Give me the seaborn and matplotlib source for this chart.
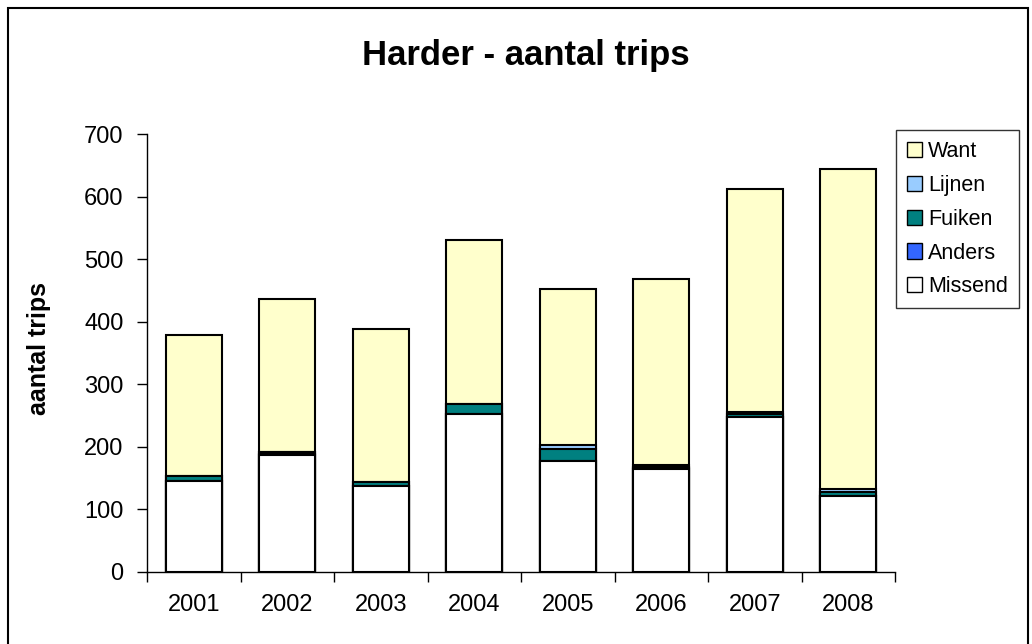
import matplotlib
matplotlib.use("Agg")
import matplotlib.pyplot as plt
import matplotlib.patches as mpatches
import numpy as np
import pandas as pd
import seaborn as sns

years = ["2001", "2002", "2003", "2004", "2005", "2006", "2007", "2008"]
missend = [145, 187, 137, 252, 177, 165, 248, 122]
anders = [0, 1, 0, 0, 0, 1, 0, 0]
fuiken = [8, 4, 7, 16, 19, 2, 5, 6]
lijnen = [0, 0, 0, 0, 7, 3, 2, 4]
want = [225, 245, 245, 263, 249, 297, 357, 512]

series_names = ["Missend", "Anders", "Fuiken", "Lijnen", "Want"]
series_colors = {
    "Missend": "#FFFFFF",
    "Anders": "#3366FF",
    "Fuiken": "#008080",
    "Lijnen": "#99CCFF",
    "Want": "#FFFFCC",
}

df = pd.DataFrame({
    "jaar": years,
    "Missend": missend,
    "Anders": anders,
    "Fuiken": fuiken,
    "Lijnen": lijnen,
    "Want": want,
})

# cumulative heights so each layer can be drawn as a full bar from zero
cum = df[series_names].cumsum(axis=1)
cum["jaar"] = df["jaar"]

sns.set_style("white")
plt.rcParams["font.family"] = ["Liberation Sans", "DejaVu Sans"]
plt.rcParams["text.color"] = "black"
plt.rcParams["axes.labelcolor"] = "black"
plt.rcParams["xtick.color"] = "black"
plt.rcParams["ytick.color"] = "black"

fig = plt.figure(figsize=(10.32, 6.44), dpi=100)
ax = fig.add_axes([147 / 1032, 1 - 572 / 644, 748 / 1032, 438 / 644])

# draw from the top layer down so lower layers sit over the taller bars
for name in reversed(series_names):
    sns.barplot(data=cum, x="jaar", y=name, color=series_colors[name],
                saturation=1, width=0.6, edgecolor="black", linewidth=1.5,
                ax=ax, order=years)

ax.set_xlim(-0.5, len(years) - 0.5)
ax.set_ylim(0, 700)
ax.set_yticks(np.arange(0, 701, 100))
ax.tick_params(axis="y", labelsize=17, length=7, width=1, direction="out",
               pad=10, left=True, color="black", labelcolor="black")

# category boundary ticks on the x axis, labels centred between them
ax.set_xticks(np.arange(-0.5, len(years), 1.0))
ax.set_xticklabels([])
ax.set_xticks(np.arange(len(years)), minor=True)
ax.set_xticklabels(years, minor=True)
ax.tick_params(axis="x", which="major", length=7, width=1, bottom=True,
               direction="out", color="black")
ax.tick_params(axis="x", which="minor", length=0, labelsize=17, pad=16,
               labelcolor="black")

for side in ["top", "right"]:
    ax.spines[side].set_visible(False)
for side in ["left", "bottom"]:
    ax.spines[side].set_color("black")
    ax.spines[side].set_linewidth(1)

ax.set_xlabel("")
ax.set_ylabel("aantal trips", fontsize=18, fontweight="bold", color="black")
ax.yaxis.set_label_coords(-0.128, 0.51)

fig.text(526 / 1032, 1 - 55 / 644, "Harder - aantal trips", fontsize=25,
         fontweight="bold", ha="center", va="center", color="black")

handles = [mpatches.Patch(facecolor=series_colors[n], edgecolor="black",
                          linewidth=1, label=n)
           for n in reversed(series_names)]
leg = fig.legend(handles=handles, loc="upper left",
                 bbox_to_anchor=(896 / 1032, 1 - 130 / 644),
                 fontsize=15.5, frameon=True, fancybox=False,
                 handlelength=0.7, handleheight=0.7, handletextpad=0.3,
                 labelspacing=0.6, borderpad=0.5, borderaxespad=0)
leg.get_frame().set_edgecolor("black")
leg.get_frame().set_linewidth(1)
for t in leg.get_texts():
    t.set_color("black")

# chart-area border
fig.patches.append(mpatches.Rectangle((8 / 1032, -0.01), 1020 / 1032, 1 - 8 / 644 + 0.01,
                                      transform=fig.transFigure, fill=False,
                                      edgecolor="black", linewidth=1.5))

fig.savefig("out.png", dpi=100)
